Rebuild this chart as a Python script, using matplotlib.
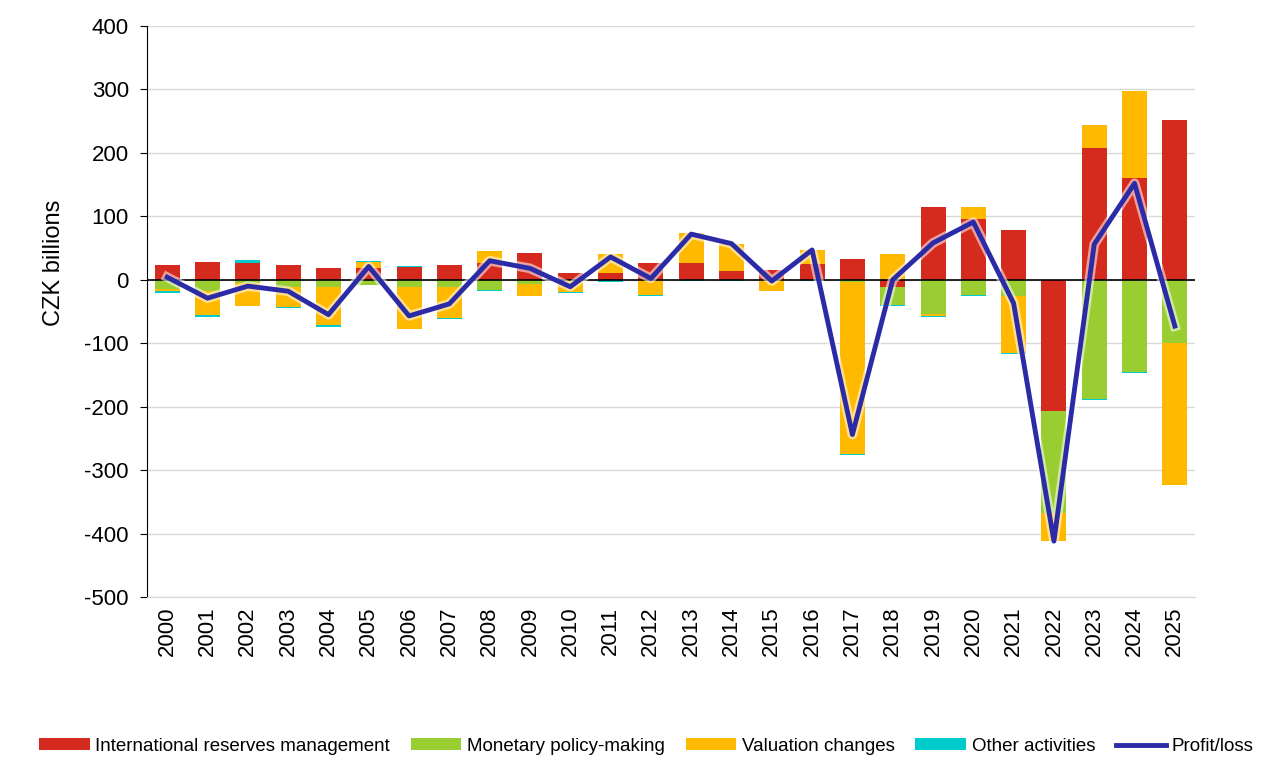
import numpy as np
import matplotlib
matplotlib.use("Agg")
import matplotlib.pyplot as plt
import matplotlib.patheffects as pe

plt.rcParams['font.family'] = ['Liberation Sans', 'DejaVu Sans']
plt.rcParams['axes.unicode_minus'] = False

years = [str(y) for y in range(2000, 2026)]
reserves = [24, 28, 26, 24, 19, 19, 20, 24, 26, 42, 11, 10, 27, 26, 14, 15, 25, 32,
            -11, 115, 96, 79, -207, 207, 160, 252]
monetary = [-14, -17, -5, -12, -12, -8, -11, -12, -16, -6, -2, -1, -1, 0, 0, 0, 0, -4,
            -29, -54, -24, -25, -160, -188, -146, -100]
valuation = [-4, -39, -37, -31, -60, 9, -67, -49, 20, -19, -18, 30, -23, 47, 43, -18, 22, -270,
             41, -3, 19, -91, -44, 37, 137, -223]
other = [-3, -2, 5, -1, -2, 1, 2, -1, -2, -1, -1, -3, -2, -2, -2, 1, -2, -2,
         -1, -1, -1, -1, -1, -1, -1, -1]
profit = [4, -29, -10, -18, -55, 21, -57, -38, 30, 18, -11, 36, 2, 72, 57, -2, 47, -244,
          0, 58, 91, -37, -412, 56, 152, -73]

series = [("International reserves management", reserves, "#d52b1e"),
          ("Monetary policy-making", monetary, "#9acd32"),
          ("Valuation changes", valuation, "#ffb900"),
          ("Other activities", other, "#00cccc")]

fig = plt.figure(figsize=(12.71, 7.76), dpi=100)
ax = fig.add_axes([0.1157, 0.2307, 0.8245, 0.7358])

x = np.arange(len(years))
pos = np.zeros(len(years))
neg = np.zeros(len(years))
for name, vals, col in series:
    v = np.array(vals, dtype=float)
    b = np.where(v >= 0, pos, neg)
    ax.bar(x, v, width=0.62, bottom=b, color=col, label=name, zorder=2)
    pos = pos + np.where(v >= 0, v, 0)
    neg = neg + np.where(v < 0, v, 0)

ax.plot(x, profit, color="#2b2ba8", lw=3.5, label="Profit/loss", zorder=4,
        path_effects=[pe.Stroke(linewidth=7, foreground="white", alpha=0.55), pe.Normal()])

ax.axhline(0, color="black", lw=1.2, zorder=3)
ax.set_ylim(-500, 400)
ax.set_xlim(-0.5, len(years) - 0.5)
ax.set_yticks(np.arange(-500, 401, 100))
ax.yaxis.grid(True, color="#d9d9d9", lw=1)
ax.set_axisbelow(True)
ax.set_xticks(x)
ax.set_xticklabels(years, rotation=90, fontsize=16)
ax.tick_params(axis="x", length=0, pad=7)
ax.tick_params(axis="y", labelsize=16, length=5, direction="out", pad=8)
for s in ["top", "right"]:
    ax.spines[s].set_visible(False)
ax.spines["bottom"].set_color("#d9d9d9")
ax.spines["left"].set_color("black")
ax.set_ylabel("CZK billions", fontsize=17)
ax.yaxis.set_label_coords(-0.078, 0.585)

h, l = ax.get_legend_handles_labels()
order = [1, 2, 3, 4, 0]
fig.legend([h[i] for i in order], [l[i] for i in order], loc="center",
           bbox_to_anchor=(0.5087, 0.038), ncol=5, frameon=False, fontsize=13.5,
           handlelength=2.7, handleheight=0.6, columnspacing=1.1, handletextpad=0.3)

fig.savefig("out.png", dpi=100)
